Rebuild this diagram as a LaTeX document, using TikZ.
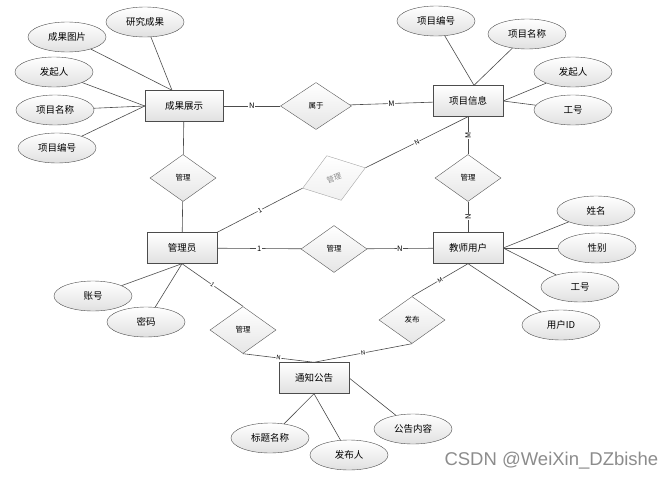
\documentclass[tikz,border=0pt]{standalone}
\usepackage{fontspec}
\setmainfont{Noto Sans CJK SC}
\newfontfamily\marca{Liberation Sans}
\usetikzlibrary{shapes.geometric}
\usetikzlibrary{calc}

\tikzset{
  entidade/.style={rectangle, draw=black!70, top color=white, bottom color=black!12,
    minimum width=70pt, minimum height=31pt, inner sep=0pt, font=\fontsize{9.5}{11}\selectfont},
  atributo/.style={ellipse, draw=black!70, top color=white, bottom color=black!12,
    minimum width=78pt, minimum height=30pt, inner sep=0pt, font=\fontsize{9.5}{11}\selectfont},
  relacao/.style={diamond, draw=black!65, top color=white, bottom color=black!10,
    minimum width=66pt, minimum height=47pt, inner sep=0pt, font=\fontsize{7.5}{9}\selectfont},
  rotulo/.style={fill=white, inner sep=0.6pt, font=\fontsize{7.5}{9}\selectfont},
  liga/.style={draw=black!70, line width=0.6pt}
}

\begin{document}
\begin{tikzpicture}[x=1pt, y=-1pt]
    \useasboundingbox (0,0) rectangle (670,479);

    % Entidades
    \node[entidade, minimum width=78pt] (cgzs) at (184,106) {成果展示};
    \node[entidade] (xmxx) at (468,101) {项目信息};
    \node[entidade] (gly) at (182,248) {管理员};
    \node[entidade] (jsyh) at (468,248) {教师用户};
    \node[entidade] (tzgg) at (314,378) {通知公告};

    % Relacionamentos
    \node[relacao, minimum width=71pt] (shuyu) at (316,106) {属于};
    \node[relacao] (gl1) at (183,178) {管理};
    \node[relacao] (gl2) at (468,178) {管理};
    \node[relacao] (gl3) at (334,249) {管理};
    \node[relacao, rotate=18, draw=black!35, text=black!45, bottom color=black!6] (gl4) at (334,178) {管理};
    \node[relacao] (gl5) at (243,330) {管理};
    \node[relacao] (fabu) at (412,320) {发布};

    % Atributos
    \foreach \nome/\x/\y/\texto in {cgtp/67/37/成果图片, yjcg/145/22/研究成果, fqr1/54/72/发起人,
        xmmc1/55/110/项目名称, xmbh1/57/148/项目编号, xmbh2/436/21/项目编号, xmmc2/527/34/项目名称,
        fqr2/573/72/发起人, gh1/573/110/工号, xm/596/211/姓名, xb/597/248/性别, gh2/580/287/工号,
        yhid/561/325/用户ID, zh/93/296/账号, mm/146/322/密码, btmc/270/438/标题名称,
        fbr/349/455/发布人, ggnr/413/429/公告内容}
    {
    \node[atributo] (\nome) at (\x,\y) {\texto};
    }

    \coordinate (cgzs-n) at ([xshift=-12pt]cgzs.north);
    \coordinate (xmxx-n) at ([xshift=6pt]xmxx.north);

    \foreach \a/\b in {cgtp/cgzs-n, yjcg/cgzs-n, fqr1/cgzs.west, xmmc1/cgzs.west, xmbh1/cgzs.west,
        xmbh2/xmxx-n, xmmc2/xmxx-n, fqr2/xmxx.east, gh1/xmxx.east,
        xm/jsyh.east, xb/jsyh.east, gh2/jsyh.east, yhid/jsyh.south,
        zh/gly.south, mm/gly.south, btmc/tzgg.south, fbr/tzgg.south, ggnr/tzgg.east}
    {
    \draw[liga] (\a) -- (\b);
    }

    % Ligacoes com cardinalidade
    \draw[liga] (cgzs) -- node[rotulo] {N} (shuyu);
    \draw[liga] (shuyu) -- node[rotulo] {M} (xmxx);
    \draw[liga] (cgzs) -- (gl1) -- (gly);
    \draw[liga] (xmxx) -- node[rotulo, rotate=90] {M} (gl2);
    \draw[liga] (gl2) -- node[rotulo, rotate=90] {N} (jsyh);
    \draw[liga] (gly.north east) -- node[rotulo, sloped, font=\fontsize{6.5}{8}\selectfont] {1} (gl4.west);
    \draw[liga] (gl4.east) -- node[rotulo, sloped, font=\fontsize{6.5}{8}\selectfont] {N} (xmxx.south);
    \draw[liga] (gly) -- node[rotulo] {1} (gl3);
    \draw[liga] (gl3) -- node[rotulo] {N} (jsyh);
    \draw[liga] (gly.south) -- node[rotulo, sloped, font=\fontsize{6}{7}\selectfont] {1} (gl5.north);
    \draw[liga] (gl5.south) -- node[rotulo, sloped, font=\fontsize{6}{7}\selectfont] {N} (tzgg.north);
    \draw[liga] (jsyh.south) -- node[rotulo, sloped, font=\fontsize{6}{7}\selectfont] {M} (fabu.north);
    \draw[liga] (fabu.south) -- node[rotulo, sloped, font=\fontsize{6}{7}\selectfont] {N} (tzgg.north);

    % Marca
    \node[anchor=west, text=black!45, font=\marca\fontsize{18.5}{21}\selectfont] (marca) at (441,461) {CSDN @WeiXin\_DZbishe};
\end{tikzpicture}
\end{document}
